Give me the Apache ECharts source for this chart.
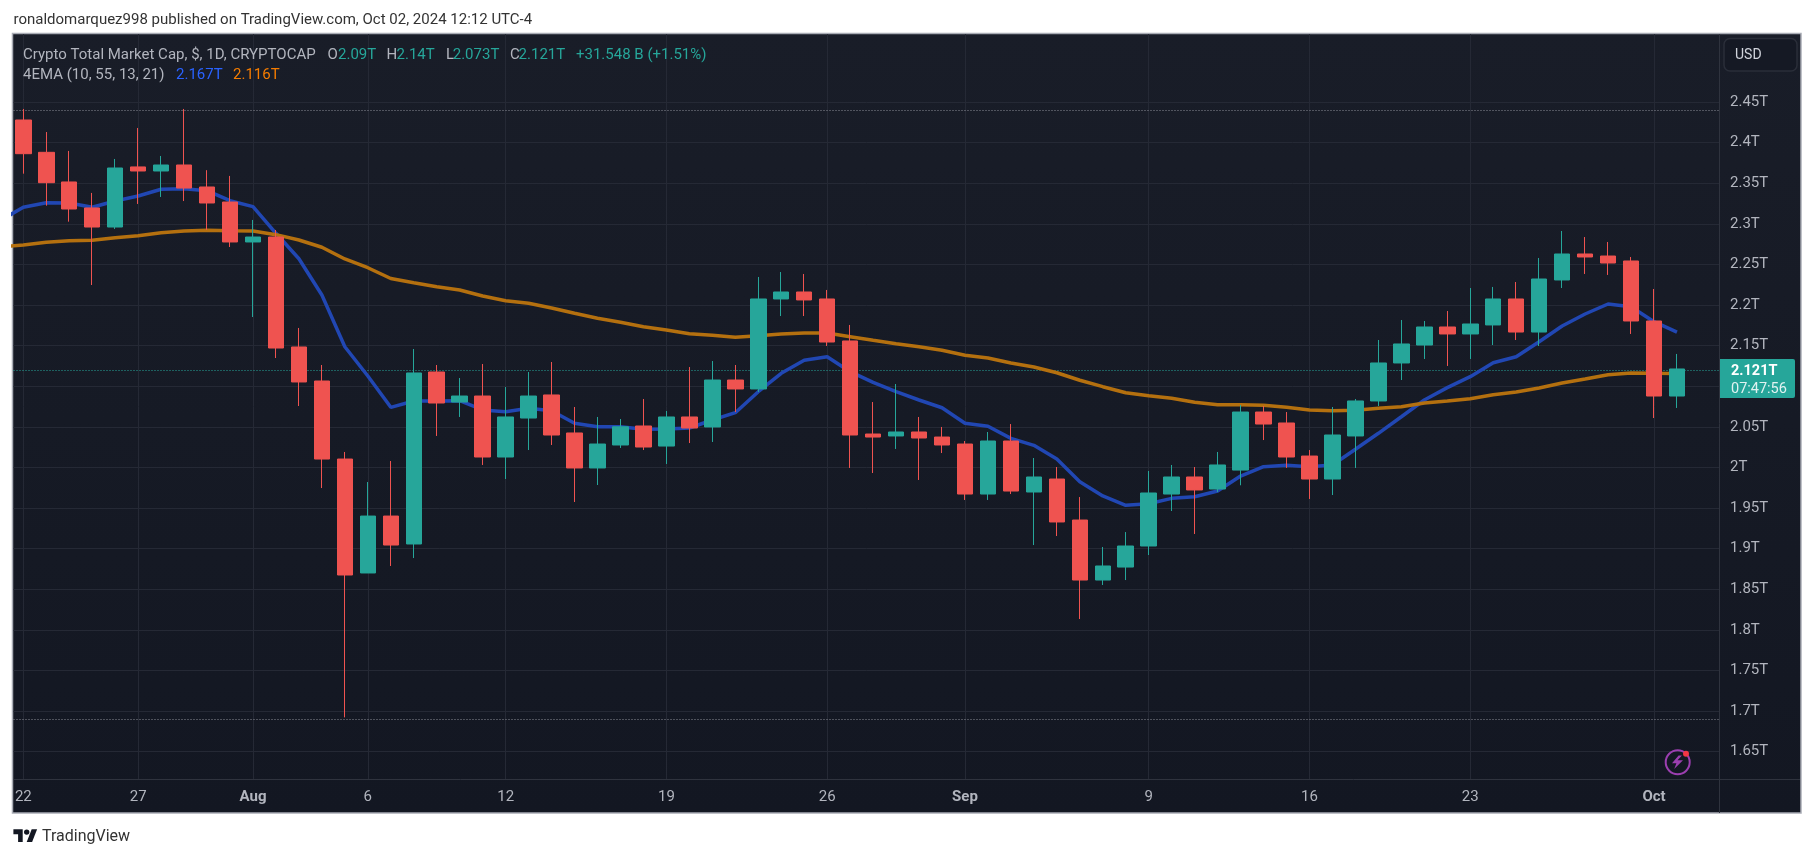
<!DOCTYPE html>
<html>
<head>
<meta charset="utf-8">
<style>html,body{margin:0;padding:0;background:#fff}#c{width:1814px;height:858px}</style>
<script src="https://cdn.jsdelivr.net/npm/echarts@6/dist/echarts.min.js"></script>
</head>
<body>
<div id="c"></div>
<script>
// ---- data (trillions USD), index 0 = 22 Jul 2024 ----
var opens = [2.4278,2.388,2.3515,2.3195,2.296,2.37,2.365,2.3724,2.3453,2.3268,2.2776,2.2837,2.1483,2.1064,2.0103,1.87,1.9401,1.9057,2.1175,2.0805,2.0879,2.0128,2.0608,2.0892,2.0424,1.9993,2.0276,2.051,2.0263,2.0621,2.0498,2.1076,2.0966,2.2074,2.216,2.2074,2.1557,2.0411,2.0387,2.0436,2.0374,2.0288,1.9672,2.0325,1.9697,1.9857,1.9352,1.8613,1.8773,1.9032,1.9672,1.9882,1.9734,1.9967,2.0682,2.0547,2.014,1.9857,2.0387,2.0818,2.1286,2.1507,2.1729,2.1643,2.1754,2.2074,2.1667,2.2308,2.2628,2.2603,2.2542,2.1803,2.0879];
var closes = [2.3863,2.3506,2.3182,2.296,2.3687,2.365,2.3724,2.344,2.3256,2.2776,2.2837,2.147,2.1052,2.0103,1.8675,1.9401,1.9044,2.1163,2.0793,2.0879,2.0128,2.0621,2.0879,2.0399,1.9993,2.0288,2.05,2.0251,2.0621,2.0485,2.1076,2.0966,2.2074,2.216,2.2062,2.1544,2.0399,2.0374,2.0436,2.0362,2.0276,1.9672,2.0325,1.9709,1.9882,1.9328,1.8613,1.8786,1.9032,1.9685,1.9882,1.9722,2.003,2.0682,2.0534,2.0128,1.9857,2.0399,2.0818,2.1286,2.152,2.1729,2.1643,2.1766,2.2074,2.1667,2.232,2.2628,2.2591,2.2517,2.1803,2.0879,2.1212];
var lows = [2.3617,2.3223,2.3026,2.2246,2.2936,2.3244,2.333,2.328,2.2924,2.2714,2.1852,2.1347,2.0756,1.9746,1.6922,1.87,1.8786,1.8884,2.0387,2.0621,2.003,1.9857,2.0214,2.0276,1.9574,1.9783,2.0239,2.0214,2.0042,2.03,2.0313,2.0682,2.0929,2.1864,2.1864,2.1495,1.9993,1.9931,2.0227,1.9845,2.0177,1.9599,1.9599,1.9672,1.9044,1.9155,1.8133,1.8552,1.8613,1.8921,1.9463,1.918,1.9697,1.978,2.0337,1.9993,1.9611,1.966,1.9993,2.0756,2.1076,2.1335,2.1249,2.1335,2.1507,2.1569,2.1495,2.2209,2.2382,2.237,2.1643,2.0608,2.0732];
var highs = [2.4414,2.413,2.3897,2.338,2.3798,2.418,2.3835,2.4414,2.366,2.3589,2.3047,2.2924,2.1717,2.1261,2.019,1.982,2.0079,2.1458,2.1261,2.1101,2.1273,2.099,2.1175,2.1298,2.0744,2.0621,2.0596,2.0842,2.0695,2.1236,2.131,2.1261,2.2345,2.2406,2.2382,2.2185,2.1754,2.0805,2.1027,2.0621,2.0498,2.0325,2.0436,2.0534,2.0116,2.0005,1.9635,1.902,1.9204,1.9956,2.003,2.0005,2.019,2.0768,2.0756,2.0682,2.0214,2.0744,2.0842,2.1569,2.1815,2.1803,2.1926,2.2209,2.2222,2.2283,2.2579,2.2911,2.2837,2.2776,2.2591,2.2197,2.1397];
// EMA series start one day earlier (21 Jul) so that they run off the left edge
var emaBlue = [2.304,2.3203,2.326,2.3256,2.3203,2.3281,2.3342,2.3425,2.3432,2.3408,2.3284,2.3211,2.2883,2.257,2.2123,2.1486,2.1126,2.074,2.0818,2.0818,2.0822,2.0707,2.0686,2.0728,2.0698,2.0543,2.0501,2.05,2.0469,2.0473,2.0485,2.0584,2.0674,2.0932,2.1159,2.1319,2.1363,2.1179,2.1048,2.0932,2.083,2.0735,2.0543,2.0506,2.0358,2.0272,2.0103,1.9824,1.9648,1.9533,1.9553,1.9619,1.9639,1.971,1.9894,2.0009,2.0026,2.0009,2.003,2.0223,2.042,2.0624,2.083,2.0982,2.1117,2.1289,2.1363,2.1548,2.1741,2.1889,2.2012,2.1979,2.1794,2.1667];
var emaOrange = [2.2714,2.2739,2.2772,2.2792,2.2797,2.2829,2.2853,2.289,2.2911,2.292,2.2915,2.2911,2.2866,2.28,2.2711,2.2567,2.2459,2.2326,2.2275,2.2225,2.2185,2.2111,2.2053,2.2021,2.1963,2.1898,2.1836,2.1787,2.1733,2.1692,2.1647,2.1627,2.1602,2.1622,2.1643,2.1655,2.1655,2.161,2.1565,2.1523,2.1486,2.1442,2.1381,2.1347,2.1286,2.1236,2.1166,2.1073,2.0994,2.092,2.0883,2.0851,2.0802,2.0772,2.0772,2.0765,2.074,2.0707,2.0698,2.0703,2.0728,2.0748,2.0793,2.0818,2.0846,2.0895,2.0929,2.0978,2.1039,2.1089,2.1142,2.1163,2.1159,2.1156];
var dateTickDays = [0,5,10,15,21,28,35,41,49,56,63,71];
var dateTickLabels = ['22','27','Aug','6','12','19','26','Sep','9','16','23','Oct'];
var priceGrid = [1.65,1.7,1.75,1.8,1.85,1.9,1.95,2,2.05,2.1,2.15,2.2,2.25,2.3,2.35,2.4,2.45];
var priceLabels = [1.65,1.7,1.75,1.8,1.85,1.9,1.95,2,2.05,2.15,2.2,2.25,2.3,2.35,2.4,2.45];
var visibleHigh = 2.4414, visibleLow = 1.691, lastPrice = 2.1208;

var FONT = 'Roboto, "Noto Sans", sans-serif';
var GRAY = '#b2b5be', TEAL = '#26a69a', RED = '#ef5350', BLUE = '#2962ff', ORANGE = '#f57c00';

var candleData = opens.map(function (o, i) { return [i, o, closes[i], lows[i], highs[i]]; });
function emaData(a) { return a.map(function (v, i) { return [i - 1, v]; }); }

function label(txt, x, y, color, size, weight) {
  return { type: 'text', z: 100, silent: true, x: x, y: y,
    style: { text: txt, fill: color, font: (weight || 'normal') + ' ' + (size || 14) + 'px ' + FONT, verticalAlign: 'middle' } };
}

var graphics = [
  { type: 'rect', z: -10, silent: true, shape: { x: 12.5, y: 33.5, width: 1788.5, height: 779.5 },
    style: { stroke: '#a9acb5', lineWidth: 1.5,
      fill: { type: 'linear', x: 0, y: 0, x2: 0, y2: 1, colorStops: [{ offset: 0, color: '#191d28' }, { offset: 1, color: '#131722' }] } } },
  { type: 'line', z: 1, silent: true, shape: { x1: 1719.5, y1: 34, x2: 1719.5, y2: 813 }, style: { stroke: '#2f333e', lineWidth: 1 } },
  { type: 'line', z: 1, silent: true, shape: { x1: 14, y1: 779.5, x2: 1800, y2: 779.5 }, style: { stroke: '#2f333e', lineWidth: 1 } },
  // USD button
  { type: 'rect', z: 90, silent: true, shape: { x: 1724, y: 38.5, width: 73, height: 32.5, r: 6 }, style: { fill: '#151924', stroke: '#2a2e39', lineWidth: 1.5 } },
  label('USD', 1735, 55, '#d1d4dc', 14),
  // top caption and logo
  label('ronaldomarquez998 published on TradingView.com, Oct 02, 2024 12:12 UTC-4', 13.5, 20, '#333333', 15),
  { type: 'polygon', z: 100, silent: true, shape: { points: [[22.7,841.9],[18.1,841.9],[18.1,834.2],[13.4,834.2],[13.4,829.3],[22.7,829.3]] }, style: { fill: '#131722' } },
  { type: 'polygon', z: 100, silent: true, shape: { points: [[32.1,841.9],[26.7,841.9],[31.7,829.3],[37.1,829.3]] }, style: { fill: '#131722' } },
  { type: 'circle', z: 100, silent: true, shape: { cx: 26.7, cy: 832.1, r: 2.7 }, style: { fill: '#131722' } },
  label('TradingView', 42, 837, '#333333', 16),
  // legend lines
  label('Crypto Total Market Cap, $, 1D, CRYPTOCAP', 23, 55, GRAY, 15),
  label('O', 327.6, 55, GRAY, 15), label('2.09T', 338, 55, TEAL, 15),
  label('H', 386.5, 55, GRAY, 15), label('2.14T', 396.5, 55, TEAL, 15),
  label('L', 446, 55, GRAY, 15), label('2.073T', 452.7, 55, TEAL, 15),
  label('C', 510, 55, GRAY, 15), label('2.121T', 518.6, 55, TEAL, 15),
  label('+31.548 B (+1.51%)', 576, 55, TEAL, 15),
  label('4EMA (10, 55, 13, 21)', 23, 75.5, GRAY, 15),
  label('2.167T', 176, 75.5, BLUE, 15),
  label('2.116T', 233, 75.5, ORANGE, 15),
  // last price tag
  { type: 'rect', z: 95, silent: true, shape: { x: 1720, y: 359, width: 75, height: 39, r: [0, 2, 2, 0] }, style: { fill: TEAL } },
  label('2.121T', 1731, 371, '#ffffff', 14.5, 'bold'),
  label('07:47:56', 1731, 389, '#e0f2f1', 14.5),
  // bolt badge
  { type: 'circle', z: 90, silent: true, shape: { cx: 1677.7, cy: 762.3, r: 12 }, style: { fill: 'none', stroke: '#9c3fb0', lineWidth: 2 } },
  { type: 'polygon', z: 90, silent: true, shape: { points: [[1678.6,755.5],[1672,763.2],[1676.4,763.2],[1674.2,769],[1683,760.3],[1677.5,760.3],[1681.9,755.5]] }, style: { fill: '#9c3fb0' } },
  { type: 'circle', z: 91, silent: true, shape: { cx: 1686, cy: 753.7, r: 3 }, style: { fill: '#f23645' } }
];

var chart = echarts.init(document.getElementById('c'), null, { renderer: 'canvas', width: 1814, height: 858 });
chart.setOption({
  animation: false,
  backgroundColor: '#ffffff',
  textStyle: { fontFamily: FONT },
  graphic: { elements: graphics },
  grid: { left: 13.5, right: 95, top: 34, bottom: 79, containLabel: false },
  xAxis: {
    type: 'value', min: -0.427, max: 73.83,
    axisLine: { show: false },
    axisTick: { show: false, customValues: dateTickDays },
    splitLine: { show: true, lineStyle: { color: '#252935', width: 1 } },
    axisLabel: {
      customValues: dateTickDays, margin: 11, fontSize: 15, fontFamily: FONT, color: GRAY,
      formatter: function (v) {
        var t = dateTickLabels[dateTickDays.indexOf(v)];
        return (t === 'Aug' || t === 'Sep' || t === 'Oct') ? '{b|' + t + '}' : t;
      },
      rich: { b: { fontWeight: 'bold', fontSize: 15, fontFamily: FONT, color: GRAY } }
    }
  },
  yAxis: {
    type: 'value', position: 'right', min: 1.6163, max: 2.5337, scale: true,
    axisLine: { show: false },
    axisTick: { show: false, customValues: priceGrid },
    splitLine: { show: true, lineStyle: { color: '#252935', width: 1 } },
    axisLabel: {
      customValues: priceLabels, margin: 11, fontSize: 15, fontFamily: FONT, color: GRAY, padding: [2, 0, 0, 0],
      formatter: function (v) { return (+v.toFixed(2)) + 'T'; }
    }
  },
  series: [
    { name: 'EMA 10', type: 'line', z: 1, data: emaData(emaBlue), showSymbol: false, symbol: 'none', silent: true,
      lineStyle: { color: '#2147b3', width: 3.5 } },
    { name: 'EMA 55', type: 'line', z: 1, data: emaData(emaOrange), showSymbol: false, symbol: 'none', silent: true,
      lineStyle: { color: '#b4700f', width: 3.5 },
      markLine: { silent: true, symbol: 'none', animation: false, z: 1, label: { show: false },
        data: [
          { yAxis: visibleHigh, lineStyle: { color: '#8a8d96', type: [1, 2], width: 1 } },
          { yAxis: visibleLow, lineStyle: { color: '#8a8d96', type: [1, 2], width: 1 } },
          { yAxis: lastPrice, lineStyle: { color: TEAL, type: [1, 2], width: 1 } }
        ] } },
    { name: 'Crypto Total Market Cap', type: 'candlestick', z: 3, data: candleData, barWidth: 16,
      itemStyle: { color: TEAL, color0: RED, borderColor: TEAL, borderColor0: RED, borderWidth: 1 } }
  ]
});
</script>
</body>
</html>
